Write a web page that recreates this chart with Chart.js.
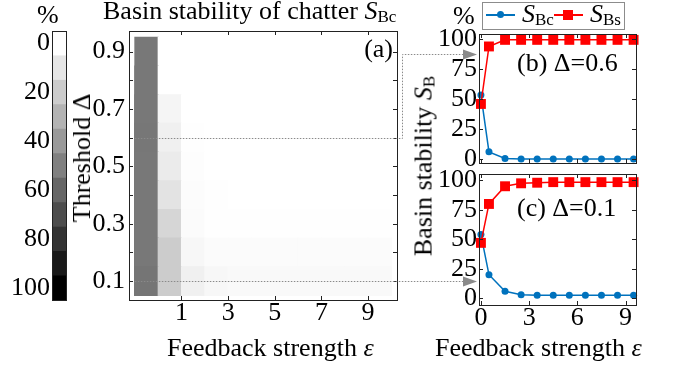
<!DOCTYPE html>
<html>
<head>
<meta charset="utf-8">
<script src="https://cdn.jsdelivr.net/npm/chart.js@4.4.1/dist/chart.umd.min.js"></script>
<style>
  body { margin: 0; background: #fff; }
  #wrap { position: relative; width: 673px; height: 370px; overflow: hidden;
          font-family: "Liberation Serif", "Times New Roman", serif; color: #000; }
  canvas { position: absolute; left: 0; top: 0; }
  .t { position: absolute; white-space: nowrap; font-size: 26px; line-height: 26px; }
  .sub { font-size: 17px; line-height: 1; vertical-align: -3px; font-style: normal; }
  .rot { transform: translate(-50%, -50%) rotate(-90deg); }
  .lg { position: absolute; }
</style>
</head>
<body>
<div id="wrap">
  <canvas id="cbar" width="673" height="370"></canvas>
  <canvas id="heat" width="673" height="370"></canvas>
  <canvas id="lineB" width="673" height="370"></canvas>
  <canvas id="lineC" width="673" height="370"></canvas>
  <canvas id="overlay" width="673" height="370"></canvas>

  <div class="t" style="left:37px;top:2px;">%</div>
  <div class="t" style="left:103px;top:-2px;">Basin stability of chatter <i>S</i><span class="sub">Bc</span></div>
  <div class="t" style="right:280px;top:36px;">(a)</div>
  <div class="t rot" style="left:82px;top:158px;">Threshold Δ</div>
  <div class="t" style="left:167px;top:335px;">Feedback strength <i>ε</i></div>

  <div class="t" style="left:453px;top:3px;">%</div>
  <div class="t rot" style="left:424px;top:166px;">Basin stability <i>S</i><span class="sub">B</span></div>
  <div class="t" style="left:517px;top:50px;">(b) Δ=0.6</div>
  <div class="t" style="left:517px;top:195px;">(c) Δ=0.1</div>
  <div class="t" style="left:435px;top:335px;">Feedback strength <i>ε</i></div>

  <!-- legend -->
  <div class="lg" style="left:482px;top:2px;width:141px;height:26px;border:1px solid #8c8c8c;"></div>
  <div class="lg" style="left:486px;top:14px;width:29px;height:2px;background:#0072BD;"></div>
  <div class="lg" style="left:497px;top:11px;width:7px;height:7px;border-radius:50%;background:#0072BD;"></div>
  <div class="t" style="left:522px;top:1px;"><i>S</i><span class="sub">Bc</span></div>
  <div class="lg" style="left:554px;top:14px;width:29px;height:2px;background:#FF0000;"></div>
  <div class="lg" style="left:563px;top:10px;width:10px;height:10px;background:#FF0000;"></div>
  <div class="t" style="left:590px;top:1px;"><i>S</i><span class="sub">Bs</span></div>
</div>

<script>
// feedback strength values of the 11 runs
var epsValues = [0, 0.5, 1.5, 2.5, 3.5, 4.5, 5.5, 6.5, 7.5, 8.5, 9.5];
var thresholds = [0.1, 0.2, 0.3, 0.4, 0.5, 0.6, 0.7, 0.8, 0.9];

// basin stability of chatter (%) per threshold, one value per eps
var sbcDelta01 = [54, 20, 6, 3, 2.5, 2.5, 2.5, 2.5, 2.5, 2.5, 2.5];
var sbcDelta02 = [53, 20, 3, 1.5, 1.5, 1.5, 1.5, 1.5, 1.5, 1.5, 1.5];
var sbcDelta03 = [53, 16, 1.5, 0.5, 0.3, 0.3, 0.3, 0.3, 0.3, 0.3, 0.3];
var sbcDelta04 = [53, 11, 1.2, 0.3, 0, 0, 0, 0, 0, 0, 0];
var sbcDelta05 = [53, 8, 0.8, 0, 0, 0, 0, 0, 0, 0, 0];
var sbcDelta06 = [53.5, 6, 0.5, 0, 0, 0, 0, 0, 0, 0, 0];
var sbcDelta07 = [53, 4, 0, 0, 0, 0, 0, 0, 0, 0, 0];
var sbcDelta08 = [53, 0, 0, 0, 0, 0, 0, 0, 0, 0, 0];
var sbcDelta09 = [53, 0, 0, 0, 0, 0, 0, 0, 0, 0, 0];
var heatRows = [sbcDelta01, sbcDelta02, sbcDelta03, sbcDelta04, sbcDelta05,
                sbcDelta06, sbcDelta07, sbcDelta08, sbcDelta09];

// basin stability of the stable state (%)
var sbsDelta06 = [46, 94, 99.5, 99.5, 99.5, 99.5, 99.5, 99.5, 99.5, 99.5, 99.5];
var sbsDelta01 = [47, 80, 95, 97.5, 98, 98.5, 98.5, 98.5, 98.5, 98.5, 98.5];

var colorbarLevels = [0, 10, 20, 30, 40, 50, 60, 70, 80, 90, 100];
var colorbarTicks = [0, 20, 40, 60, 80, 100];
var heatXTicks = [1, 3, 5, 7, 9];
var heatYTicks = [0.1, 0.2, 0.3, 0.4, 0.5, 0.6, 0.7, 0.8, 0.9];
var heatYLabels = ['0.1', '0.3', '0.5', '0.7', '0.9'];
var lineXTicks = [0, 3, 6, 9];
var lineYTicks = [0, 25, 50, 75, 100];

var W = 673, H = 370;
var tickFont = { family: 'Liberation Serif', size: 26 };

function gray(v) {
  var g = Math.round(255 * (1 - v / 100));
  return 'rgb(' + g + ',' + g + ',' + g + ')';
}

function setTicks(list) {
  return function(scale) { scale.ticks = list.map(function(v) { return { value: v }; }); };
}

// box around the plot area
var framePlugin = {
  id: 'frame',
  afterDatasetsDraw: function(chart) {
    var a = chart.chartArea, ctx = chart.ctx;
    ctx.save();
    ctx.strokeStyle = '#222';
    ctx.lineWidth = 1;
    ctx.strokeRect(Math.round(a.left) + 0.5, Math.round(a.top) + 0.5,
                   Math.round(a.right - a.left), Math.round(a.bottom - a.top));
    ctx.restore();
  }
};

// short tick marks pointing into the plot, on all four sides
var innerTicks = {
  id: 'innerTicks',
  afterDatasetsDraw: function(chart) {
    var a = chart.chartArea, ctx = chart.ctx, L = 4;
    ctx.save();
    ctx.strokeStyle = '#222';
    ctx.lineWidth = 1;
    ctx.beginPath();
    chart.scales.x.ticks.forEach(function(t) {
      var x = Math.round(chart.scales.x.getPixelForValue(t.value)) + 0.5;
      ctx.moveTo(x, a.bottom); ctx.lineTo(x, a.bottom - L);
      ctx.moveTo(x, a.top); ctx.lineTo(x, a.top + L);
    });
    chart.scales.y.ticks.forEach(function(t) {
      var y = Math.round(chart.scales.y.getPixelForValue(t.value)) + 0.5;
      ctx.moveTo(a.left, y); ctx.lineTo(a.left + L, y);
      ctx.moveTo(a.right, y); ctx.lineTo(a.right - L, y);
    });
    ctx.stroke();
    ctx.restore();
  }
};

Chart.defaults.font.family = 'Liberation Serif';
Chart.defaults.color = '#000';

// ---------- colour bar ----------
// datasets are painted last-to-first: the black band (full length) goes down first,
// each lighter band is shorter and sits on top, so there are no seams
new Chart(document.getElementById('cbar'), {
  type: 'bar',
  data: {
    labels: [''],
    datasets: colorbarLevels.map(function(v) {
      return { data: [[-5, v + 5]], backgroundColor: gray(v), borderWidth: 0, inflateAmount: 0,
               grouped: false, barPercentage: 1, categoryPercentage: 1 };
    })
  },
  options: {
    responsive: false, animation: false, events: [],
    layout: { padding: { left: 52 - 40, right: W - 66, top: 31, bottom: H - 300 } },
    plugins: { legend: { display: false }, tooltip: { enabled: false } },
    scales: {
      x: { display: false },
      y: {
        min: -5, max: 105, reverse: true,
        afterFit: function(s) { s.width = 40; },
        afterBuildTicks: setTicks(colorbarTicks),
        grid: { display: false, drawTicks: false },
        border: { display: false },
        ticks: { font: tickFont, color: '#000', padding: 2, autoSkip: false }
      }
    }
  },
  plugins: [framePlugin]
});

// ---------- heat map (a) ----------
// every row's cells run from the bottom edge up to the row's top; the rows are painted
// top row first, so each lower row covers the rest and no light seams remain
var heat = new Chart(document.getElementById('heat'), {
  type: 'bar',
  data: {
    datasets: thresholds.map(function(d, r) {
      return {
        data: heatRows[r].map(function(v, c) { return { x: c - 0.5, y: [0.05, d + 0.05] }; }),
        backgroundColor: heatRows[r].map(gray),
        borderWidth: 0, inflateAmount: 0.5, grouped: false, barPercentage: 1, categoryPercentage: 1
      };
    })
  },
  options: {
    responsive: false, animation: false, events: [],
    layout: { padding: { left: 129 - 45, right: W - 397, top: 31, bottom: H - 300 - 30 } },
    plugins: { legend: { display: false }, tooltip: { enabled: false } },
    scales: {
      x: {
        type: 'linear', min: -1.25, max: 10.24, offset: false,
        afterFit: function(s) { s.height = 30; },
        afterBuildTicks: setTicks(heatXTicks),
        grid: { display: false, drawTicks: false },
        border: { display: false },
        ticks: { font: tickFont, color: '#000', padding: -2, autoSkip: false, maxRotation: 0 }
      },
      y: {
        min: 0.034, max: 0.972,
        afterFit: function(s) { s.width = 45; },
        afterBuildTicks: setTicks(heatYTicks),
        grid: { display: false, drawTicks: false },
        border: { display: false },
        ticks: {
          font: tickFont, color: '#000', padding: 4, autoSkip: false,
          callback: function(v) { var s = Number(v).toFixed(1); return heatYLabels.indexOf(s) >= 0 ? s : ''; }
        }
      }
    }
  },
  plugins: [innerTicks, framePlugin]
});

// ---------- line charts (b) and (c) ----------
function lineChart(id, sbc, sbs, top, bottom, yMin, yMax, showX) {
  return new Chart(document.getElementById(id), {
    type: 'line',
    data: {
      datasets: [
        { data: epsValues.map(function(x, i) { return { x: x, y: sbs[i] }; }),
          borderColor: '#FF0000', backgroundColor: '#FF0000', borderWidth: 1.5,
          pointStyle: 'rect', pointRadius: 7, pointBorderWidth: 0, clip: false, order: 0 },
        { data: epsValues.map(function(x, i) { return { x: x, y: sbc[i] }; }),
          borderColor: '#0072BD', backgroundColor: '#0072BD', borderWidth: 1.5,
          pointStyle: 'circle', pointRadius: 3.5, pointBorderWidth: 0, clip: false, order: 1 }
      ]
    },
    options: {
      responsive: false, animation: false, events: [],
      layout: { padding: { left: 479 - 50, right: W - 636, top: top, bottom: H - bottom - (showX ? 30 : 0) } },
      plugins: { legend: { display: false }, tooltip: { enabled: false } },
      scales: {
        x: {
          type: 'linear', min: -0.12, max: 9.65,
          afterFit: function(s) { s.height = showX ? 30 : 0; },
          afterBuildTicks: setTicks(lineXTicks),
          grid: { display: false, drawTicks: false },
          border: { display: false },
          ticks: { display: showX, font: tickFont, color: '#000', padding: -2, autoSkip: false, maxRotation: 0 }
        },
        y: {
          min: yMin, max: yMax,
          afterFit: function(s) { s.width = 50; },
          afterBuildTicks: setTicks(lineYTicks),
          grid: { display: false, drawTicks: false },
          border: { display: false },
          ticks: { font: tickFont, color: '#000', padding: 2, autoSkip: false }
        }
      }
    },
    plugins: [innerTicks, framePlugin]
  });
}

var chartB = lineChart('lineB', sbcDelta06, sbsDelta06, 34, 163, -3.3, 104.4, false);
var chartC = lineChart('lineC', sbcDelta01, sbsDelta01, 174, 305, -5.7, 105.4, true);

// ---------- dotted connectors from the heat map rows to the line charts ----------
(function() {
  var ctx = document.getElementById('overlay').getContext('2d');
  var yA = Math.round(heat.scales.y.getPixelForValue(0.6)) + 0.5;
  var yB = Math.round(heat.scales.y.getPixelForValue(0.1)) + 0.5;
  var x0 = heat.scales.x.getPixelForValue(-1);
  var xBend = Math.round(heat.chartArea.right) + 5.5;
  var yTop = Math.round(chartB.scales.y.getPixelForValue(88)) + 0.5;
  var tip = chartB.chartArea.left - 2, head = 14;

  ctx.save();
  ctx.strokeStyle = '#8a8a8a';
  ctx.lineWidth = 1;
  ctx.setLineDash([1.5, 1.5]);
  ctx.beginPath();
  ctx.moveTo(x0, yA); ctx.lineTo(xBend, yA); ctx.lineTo(xBend, yTop); ctx.lineTo(tip - head, yTop);
  ctx.moveTo(x0, yB); ctx.lineTo(tip - head, yB);
  ctx.stroke();
  ctx.setLineDash([]);
  ctx.fillStyle = '#8a8a8a';
  [yTop, yB].forEach(function(y) {
    ctx.beginPath();
    ctx.moveTo(tip - head, y - 5); ctx.lineTo(tip, y); ctx.lineTo(tip - head, y + 5);
    ctx.closePath(); ctx.fill();
  });
  ctx.restore();
})();
</script>
</body>
</html>
